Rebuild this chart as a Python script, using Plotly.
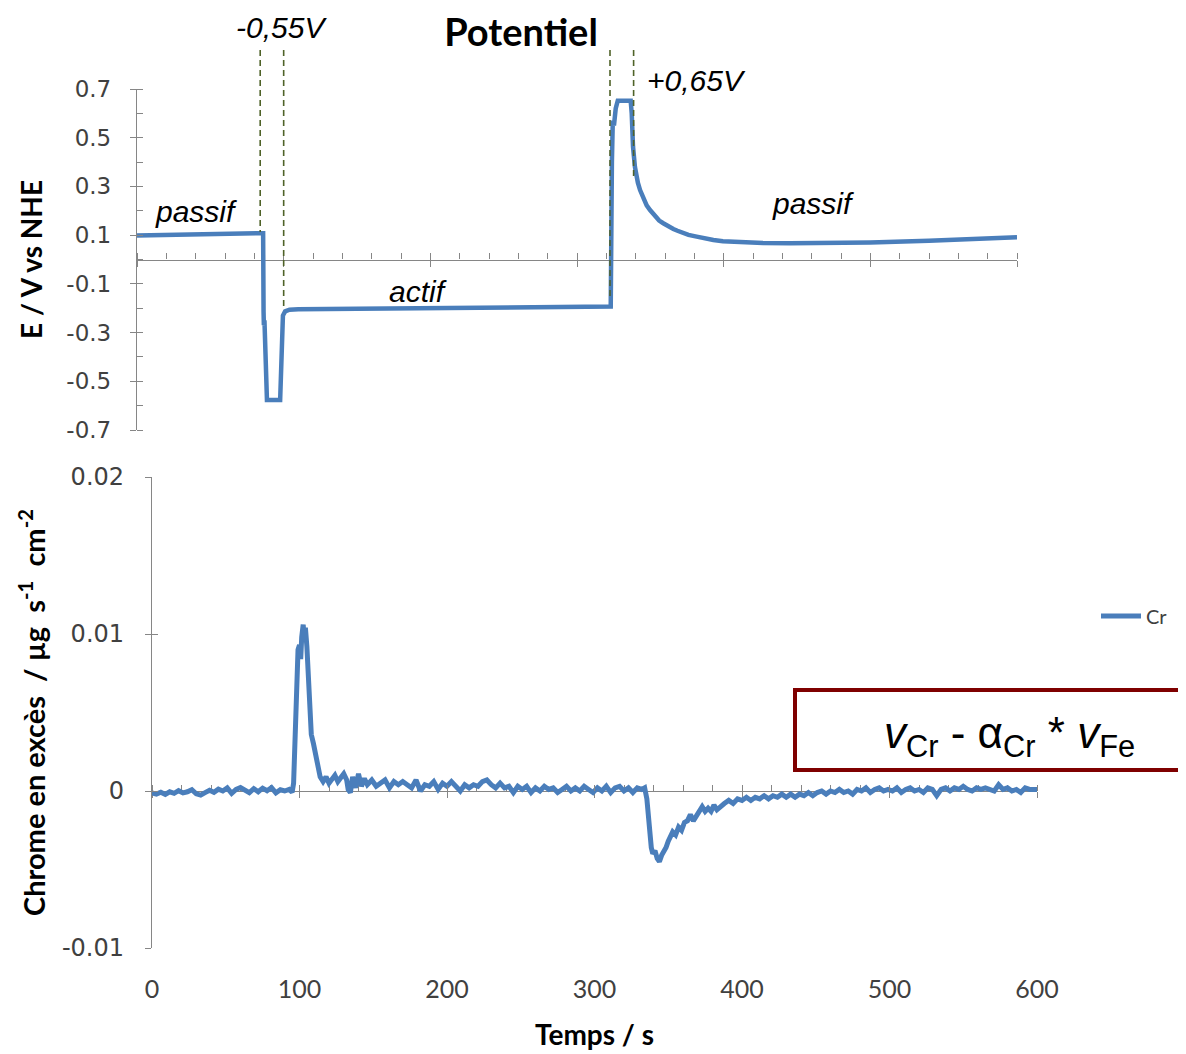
import plotly.graph_objects as go

W, H = 1186, 1054
OFF = 8  # page body margin in the screenshot


def fx(px):
    return (px - OFF) / W


def fy(py):
    return 1 - (py - OFF) / H


# ---------------- data: potential (top panel) ----------------
t_pot = [0, 40, 86.0, 86.3, 86.5, 86.9, 88.6, 97.6, 99.5, 101.0, 104, 110, 150, 200, 250, 300,
         323.0, 323.8, 324.4, 325.2, 326.4, 327.8, 336.6, 337.3, 337.7, 338.2, 339.5, 340.5,
         341.5, 343.0, 344.5, 346.4, 347.5, 349.8, 352.0, 354.3, 356.0, 358.8, 362.0, 365.7,
         368.5, 372.5, 376.0, 381.6, 388.4, 393.0, 399.5, 405.0, 411.1, 418.0, 426.8, 445.2,
         470, 500, 540, 570, 600]
e_pot = [0.099, 0.103, 0.108, -0.215, -0.27, -0.25, -0.577, -0.577, -0.23, -0.213, -0.206, -0.204,
         -0.202, -0.200, -0.198, -0.196, -0.193, 0.40, 0.57, 0.55, 0.62, 0.652, 0.652, 0.60, 0.53,
         0.463, 0.38, 0.345, 0.315, 0.285, 0.262, 0.237, 0.222, 0.203, 0.185, 0.169, 0.160, 0.149,
         0.136, 0.125, 0.118, 0.108, 0.101, 0.094, 0.083, 0.080, 0.075, 0.073, 0.071, 0.070,
         0.068, 0.067, 0.067, 0.070, 0.077, 0.084, 0.091]

# ---------------- data: excess chromium (bottom panel) ----------------
t_base = [0, 3, 6, 9, 12, 15, 18, 21, 24, 27, 30, 33, 36, 39, 42, 45, 48, 51, 54, 57, 60, 63, 66,
          69, 72, 75, 78, 81, 84, 87, 90, 93, 95]
v_base = [-0.00012, -0.0002, -0.00008, -0.00022, -0.00005, -0.00015, 0.00002, -0.00012, -0.00005,
          0.00008, -0.00018, -0.00026, -0.0001, 0.00005, -0.00008, 0.00012, 0.0, 0.0002, -0.00015,
          0.0001, 0.00022, 0.00002, -0.0001, 0.00015, -0.00005, 0.00018, 0.00002, 0.00022,
          -0.00012, 0.00008, 0.0, 0.0001, -0.00008]
t_peak = [96, 97.5, 99, 100, 100.8, 101.5, 102.5, 103.3, 104, 105, 106, 107, 108, 109.5, 111,
          112.5, 114, 116, 118, 120, 122, 124, 126, 128, 130, 132, 133, 134.5, 136, 138, 140,
          142, 144, 146]
v_peak = [0.0005, 0.004, 0.009, 0.0093, 0.0084, 0.0098, 0.0106, 0.0096, 0.0104, 0.0092, 0.0068,
          0.0044, 0.0036, 0.003, 0.0024, 0.0016, 0.0009, 0.0006, 0.0009, 0.0005, 0.0008, 0.001,
          0.0006, 0.0009, 0.0011, 0.0007, 0.0001, -0.0001, 0.0009, 0.0002, 0.0011, 0.0003, 0.0008,
          0.0004]
t_mid = [149, 152, 155, 158, 161, 164, 167, 170, 173, 176, 179, 182, 185, 188, 191, 194, 197, 200,
         203, 206, 209, 212, 215, 218, 221, 224, 227, 230, 233, 236, 239, 242, 245, 248, 251, 254,
         257, 260, 263, 266, 269, 272, 275, 278, 281, 284, 287, 290, 293, 296, 299, 302, 305, 308,
         311, 314, 317, 320, 323, 326, 329, 332, 334]
v_mid = [0.0007, 0.0003, 0.0005, 0.0007, 0.0002, 0.0006, 0.0004, 0.0006, 0.0004, 0.0002, 0.0007,
         0.0, 0.0004, 0.0003, 0.0006, 0.0001, 0.0005, 0.0003, 0.0006, 0.0003, 0.0, 0.0004, 0.0002,
         0.0004, 0.0003, 0.0006, 0.0007, 0.0004, 0.0002, 0.0005, 0.0002, 0.0003, -0.0001, 0.0003,
         0.0001, 0.0003, -0.0001, 0.0002, 0.0, 0.0003, 0.0001, 0.0002, -0.0001, 0.0001, 0.0003,
         0.0, 0.0002, 0.0, 0.0003, 0.0001, -0.0001, 0.0002, 0.0, 0.0003, -0.0001, 0.0002, 0.0003,
         0.0, 0.0002, -0.0001, 0.0002, 0.0001, 0.0002]
t_drop = [335.5, 336.5, 337.5, 338.5, 339.5, 341, 342.5, 344, 345.5, 347, 348.5, 350, 351.5, 353,
          355, 357, 359, 361, 363, 365, 367, 369, 371, 373, 375, 377, 379, 381, 383, 385]
v_drop = [-0.0005, -0.0018, -0.0024, -0.0036, -0.004, -0.0038, -0.0043, -0.0045, -0.0041, -0.0039,
          -0.0036, -0.0032, -0.0029, -0.0026, -0.0028, -0.0023, -0.0025, -0.002, -0.0019, -0.0015,
          -0.0019, -0.0016, -0.0014, -0.001, -0.0013, -0.0011, -0.0013, -0.0009, -0.0012, -0.001]
t_tail = [388, 391, 394, 397, 400, 403, 406, 409, 412, 415, 418, 421, 424, 427, 430, 433, 436, 439,
          442, 445, 448, 451, 454, 457, 460, 463, 466, 469, 472, 475, 478, 481, 484, 487, 490, 493,
          496, 499, 502, 505, 508, 511, 514, 517, 520, 523, 526, 529, 532, 535, 538, 541, 544, 547,
          550, 553, 556, 559, 562, 565, 568, 571, 574, 577, 580, 583, 586, 589, 592, 595, 598, 600]
v_tail = [-0.0008, -0.0006, -0.0008, -0.0005, -0.0006, -0.0004, -0.0006, -0.0004, -0.0005, -0.0003,
          -0.0005, -0.0003, -0.0004, -0.0002, -0.0004, -0.0002, -0.0004, -0.0002, -0.0003, -0.0001,
          -0.0003, -0.0001, 0.0, -0.0002, 0.0, -0.0001, 0.0001, -0.0001, 0.0, -0.0002, 0.0001, 0.0,
          0.0002, -0.0001, 0.0001, 0.0002, 0.0, 0.0001, 0.0, 0.0002, -0.0001, 0.0001, 0.0002, 0.0,
          0.0001, -0.0001, 0.0002, 0.0001, -0.0003, 0.0001, 0.0002, 0.0, 0.0002, 0.0001, 0.0003,
          0.0001, 0.0, 0.0002, 0.0001, 0.0002, 0.0001, 0.0, 0.0004, 0.0001, 0.0002, 0.0, 0.0001,
          -0.0001, 0.0002, 0.0001, 0.0001, 0.0001]

t_cr = t_base + t_peak + t_mid + t_drop + t_tail
v_cr = v_base + v_peak + v_mid + v_drop + v_tail

# tick labels
pot_ticks = [0.7, 0.5, 0.3, 0.1, -0.1, -0.3, -0.5, -0.7]
pot_ticktext = ["0.7", "0.5", "0.3", "0.1", "-0.1", "-0.3", "-0.5", "-0.7"]
cr_ticks = [0.02, 0.01, 0.0, -0.01]
cr_ticktext = ["0.02", "0.01", "0", "-0.01"]
time_ticks = [0, 100, 200, 300, 400, 500, 600]
time_ticktext = ["0", "100", "200", "300", "400", "500", "600"]

# marker positions of the potential steps (top panel time axis)
dash_times = [84.0, 100.0, 322.5, 338.6]
dash_ends_px = [232, 310, 300, 180]

BLUE = "#4a7ebb"
AXC = "#868686"
TXT = "#404040"
CAL = "Lato, 'Open Sans', sans-serif"
WIDE = "'DejaVu Sans', Verdana, sans-serif"
ARIAL = "'Liberation Sans', Arial, sans-serif"

fig = go.Figure()
fig.add_trace(go.Scatter(x=t_pot, y=e_pot, mode="lines", xaxis="x", yaxis="y",
                         line=dict(color=BLUE, width=4.5), showlegend=False, name="E"))
fig.add_trace(go.Scatter(x=t_cr, y=v_cr, mode="lines", xaxis="x2", yaxis="y2",
                         line=dict(color=BLUE, width=5), name="Cr", showlegend=True))
# empty helper traces so that the auxiliary (tick-only) axes get drawn
for xa, ya in [("x3", "y"), ("x", "y5"), ("x4", "y2"), ("x6", "y2"), ("x2", "y6")]:
    fig.add_trace(go.Scatter(x=[], y=[], xaxis=xa, yaxis=ya, mode="lines",
                             showlegend=False, hoverinfo="skip"))

top_dom_x = [fx(137), fx(1017)]
top_dom_y = [fy(430), fy(89)]
bot_dom_x = [fx(152), fx(1037)]
bot_dom_y = [fy(948), fy(477)]

common_x = dict(showgrid=False, zeroline=False, range=[0, 600], fixedrange=True,
                automargin=False)
tk = dict(tickcolor=AXC, tickwidth=1.3)

fig.update_layout(
    width=W, height=H,
    margin=dict(l=0, r=0, t=0, b=0, autoexpand=False),
    paper_bgcolor="white", plot_bgcolor="white",
    title=dict(text="<b>Potentiel</b>", x=fx(521), y=fy(33), xanchor="center", yanchor="middle",
               font=dict(family=CAL, size=38, color="black")),
    # ---- top panel
    xaxis=dict(**common_x, **tk, domain=top_dom_x, anchor="free", position=fy(259.5),
               showline=True, linecolor=AXC, linewidth=1.3, layer="below traces",
               tickmode="linear", tick0=0, dtick=100, ticks="outside", ticklen=6,
               showticklabels=False,
               minor=dict(ticks="inside", tickmode="linear", tick0=0, dtick=20, ticklen=6,
                          tickcolor=AXC, tickwidth=1.3, showgrid=False)),
    xaxis3=dict(**common_x, **tk, overlaying="x", anchor="free", position=fy(259.5),
                showline=False, tickmode="linear", tick0=0, dtick=100, ticks="inside",
                ticklen=6, showticklabels=False),
    yaxis=dict(domain=top_dom_y, range=[-0.7, 0.7], anchor="x", showgrid=False, zeroline=False,
               fixedrange=True, automargin=False, showline=True, linecolor=AXC, linewidth=1.3,
               tickmode="array", tickvals=pot_ticks, ticktext=pot_ticktext,
               ticks="outside", ticklen=6, **tk, ticklabelstandoff=14,
               tickfont=dict(family=WIDE, size=23, color=TXT),
               minor=dict(ticks="inside", tickmode="linear", tick0=-0.7, dtick=0.1, ticklen=6,
                          tickcolor=AXC, tickwidth=1.3, showgrid=False),
               title=dict(text="<b>E / V vs NHE</b>", standoff=15,
                          font=dict(family=CAL, size=28, color="black"))),
    yaxis5=dict(range=[-0.7, 0.7], overlaying="y", anchor="x", showgrid=False, zeroline=False,
                automargin=False, showline=False, tickmode="array", tickvals=pot_ticks,
                ticks="inside", ticklen=6, **tk, showticklabels=False),
    # ---- bottom panel
    xaxis2=dict(**common_x, **tk, domain=bot_dom_x, anchor="free", position=fy(791),
                showline=True, linecolor=AXC, linewidth=1.3, layer="below traces",
                tickmode="linear", tick0=0, dtick=100, ticks="outside", ticklen=6,
                showticklabels=False,
                minor=dict(ticks="inside", tickmode="linear", tick0=0, dtick=20, ticklen=6,
                           tickcolor=AXC, tickwidth=1.3, showgrid=False)),
    xaxis4=dict(**common_x, **tk, overlaying="x2", anchor="free", position=fy(791),
                showline=False, tickmode="linear", tick0=0, dtick=100, ticks="inside",
                ticklen=6, showticklabels=False),
    xaxis6=dict(**common_x, overlaying="x2", anchor="free", position=fy(972),
                showline=False, ticks="", tickmode="array", tickvals=time_ticks,
                ticktext=time_ticktext, tickfont=dict(family=CAL, size=25, color=TXT),
                title=dict(text="<b>Temps / s</b>", standoff=23,
                           font=dict(family=CAL, size=28, color="black"))),
    yaxis2=dict(domain=bot_dom_y, range=[-0.01, 0.02], anchor="x2", showgrid=False,
                zeroline=False, fixedrange=True, automargin=False, showline=True, linecolor=AXC,
                linewidth=1.3, tickmode="array", tickvals=cr_ticks, ticktext=cr_ticktext,
                ticks="outside", ticklen=6, **tk, ticklabelstandoff=16,
                tickfont=dict(family=WIDE, size=24, color=TXT),
                title=dict(text="<b>Chrome en excès  / µg  s<sup>-1</sup>  cm<sup>-2</sup></b>",
                           standoff=7, font=dict(family=CAL, size=29, color="black"))),
    yaxis6=dict(range=[-0.01, 0.02], overlaying="y2", anchor="x2", showgrid=False,
                zeroline=False, automargin=False, showline=False, tickmode="array",
                tickvals=cr_ticks, ticks="inside", ticklen=6, **tk, showticklabels=False),
    legend=dict(x=fx(1096), y=fy(616), xanchor="left", yanchor="middle",
                bgcolor="rgba(0,0,0,0)", font=dict(family=CAL, size=20, color=TXT),
                itemwidth=40),
    showlegend=True,
)

# annotations (italic labels)
labels = [("-0,55V", 281, 28), ("+0,65V", 696, 80), ("passif", 196, 211),
          ("actif", 418, 291), ("passif", 813, 204)]
for txt, px, py in labels:
    fig.add_annotation(text=f"<i>{txt}</i>", x=fx(px), y=fy(py), xref="paper", yref="paper",
                       xanchor="center", yanchor="middle", showarrow=False,
                       font=dict(family=ARIAL, size=30, color="black"))

# formula in the red box
fig.add_shape(type="rect", xref="paper", yref="paper", x0=fx(795), x1=fx(1210), y0=fy(770),
              y1=fy(690), line=dict(color="#7f0000", width=4), fillcolor="rgba(0,0,0,0)")
fig.add_annotation(text="<i>v</i><sub>Cr</sub> - α<sub>Cr</sub> * <i>v</i><sub>Fe</sub>",
                   x=fx(1010), y=fy(736), xref="paper", yref="paper", xanchor="center",
                   yanchor="middle", showarrow=False,
                   font=dict(family=ARIAL, size=44, color="black"))

# dashed step markers
for t, pend in zip(dash_times, dash_ends_px):
    fig.add_shape(type="line", xref="x", yref="paper", x0=t, x1=t, y0=fy(50), y1=fy(pend),
                  line=dict(color="#4f6228", width=1.6, dash="6px,4px"))

fig.write_html("out.html")
